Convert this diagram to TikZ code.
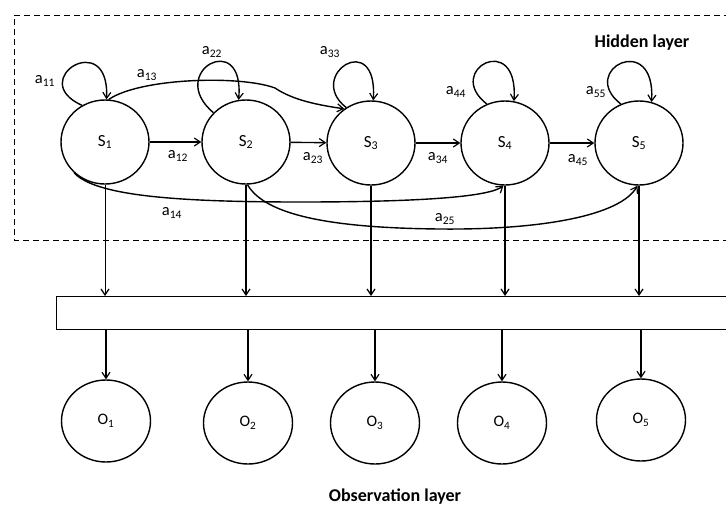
\documentclass[tikz,border=0pt]{standalone}
\usepackage{fontspec}
\setmainfont{Carlito}
\usetikzlibrary{shapes.geometric,arrows.meta}
\begin{document}
\begin{tikzpicture}[x=1pt,y=-1pt, line width=1.4pt,
 arr/.style={-{Straight Barb[length=6pt,width=8pt,line width=1.2pt]}},
 state/.style={draw,ellipse,minimum width=88pt,minimum height=84pt,inner sep=0pt,font=\fontsize{17}{19}\selectfont},
 obsv/.style={draw,ellipse,minimum width=89pt,minimum height=82pt,inner sep=0pt,font=\fontsize{16}{18}\selectfont},
 lbl/.style={inner sep=0pt,font=\fontsize{16.5}{18}\selectfont},
 ttl/.style={inner sep=0pt,font=\fontsize{18}{20}\selectfont\bfseries}]
\useasboundingbox (0,0) rectangle (726,507);
\fill[white] (0,0) rectangle (726,507);
\draw[line width=1pt, dash pattern=on 6pt off 4pt] (730,15) -- (14,15) -- (14,240) -- (730,240);
\node[ttl] (hid) at (642,43) {Hidden layer};
\node[ttl] (obl) at (395,497) {Observation layer};
% states
\node[state] (S1) at (105,142) {S\textsubscript{1}};
\node[state] (S2) at (246,142) {S\textsubscript{2}};
\node[state] (S3) at (371,143) {S\textsubscript{3}};
\node[state] (S4) at (505,143) {S\textsubscript{4}};
\node[state] (S5) at (639,143) {S\textsubscript{5}};
% observation bar
\node[draw,inner sep=0pt,minimum width=690pt,minimum height=33pt,anchor=north west] (bar) at (56,296) {};
% observations
\node[obsv] (O1) at (106,421) {O\textsubscript{1}};
\node[obsv] (O2) at (248,423) {O\textsubscript{2}};
\node[obsv] (O3) at (375,423) {O\textsubscript{3}};
\node[obsv] (O4) at (502,423) {O\textsubscript{4}};
\node[obsv] (O5) at (641,420) {O\textsubscript{5}};
% forward transitions
\draw[arr] (S1) -- (S2);
\draw[arr] (S2) -- (S3);
\draw[arr] (S3) -- (S4);
\draw[arr] (S4) -- (S5);
\node[lbl] (l12) at (178,156) {a\textsubscript{12}};
\node[lbl] (l23) at (313,158) {a\textsubscript{23}};
\node[lbl] (l34) at (438,158) {a\textsubscript{34}};
\node[lbl] (l45) at (578,160) {a\textsubscript{45}};
% self loops
\draw[arr] (S1.122) .. controls (25,80) and (110,27) .. (S1.88);
\draw[arr] (S2.138) .. controls (165,72) and (245,28) .. (S2.100);
\draw[arr] (S3.125) .. controls (305,75) and (378,28) .. (S3.87);
\draw[arr] (S4.115) .. controls (443,70) and (519,30) .. (S4.78);
\draw[arr] (S5.115) .. controls (577,70) and (656,30) .. (S5.73);
\node[lbl] (l11) at (45,81) {a\textsubscript{11}};
\node[lbl] (l22) at (212,52) {a\textsubscript{22}};
\node[lbl] (l33) at (330,52) {a\textsubscript{33}};
\node[lbl] (l44) at (456,92) {a\textsubscript{44}};
\node[lbl] (l55) at (596,92) {a\textsubscript{55}};
% long transitions
\draw[arr] (S1.85) .. controls (140,78) and (240,75) .. (275,88) .. controls (290,98) and (310,104) .. (S3.128);
\node[lbl] (l13) at (147,75) {a\textsubscript{13}};
\draw[arr] (S1.225) .. controls (95,195) and (170,202) .. (300,202) .. controls (430,202) and (490,196) .. (S4.268);
\node[lbl] (l14) at (172,213) {a\textsubscript{14}};
\draw[arr] (S2.272) .. controls (265,215) and (330,228) .. (440,229) .. controls (540,230) and (620,216) .. (S5.268);
\node[lbl] (l25) at (445,219) {a\textsubscript{25}};
% emissions
\draw[arr, line width=0.7pt] (S1.south) -- (S1.south |- bar.north);
\draw[arr] (S2.south) -- (S2.south |- bar.north);
\draw[arr] (S3.south) -- (S3.south |- bar.north);
\draw[arr] (S4.south) -- (S4.south |- bar.north);
\draw[arr] (S5.south) -- (S5.south |- bar.north);
\draw[arr] (O1.north |- bar.south) -- (O1.north);
\draw[arr] (O2.north |- bar.south) -- (O2.north);
\draw[arr] (O3.north |- bar.south) -- (O3.north);
\draw[arr] (O4.north |- bar.south) -- (O4.north);
\draw[arr] (O5.north |- bar.south) -- (O5.north);
\end{tikzpicture}
\end{document}
